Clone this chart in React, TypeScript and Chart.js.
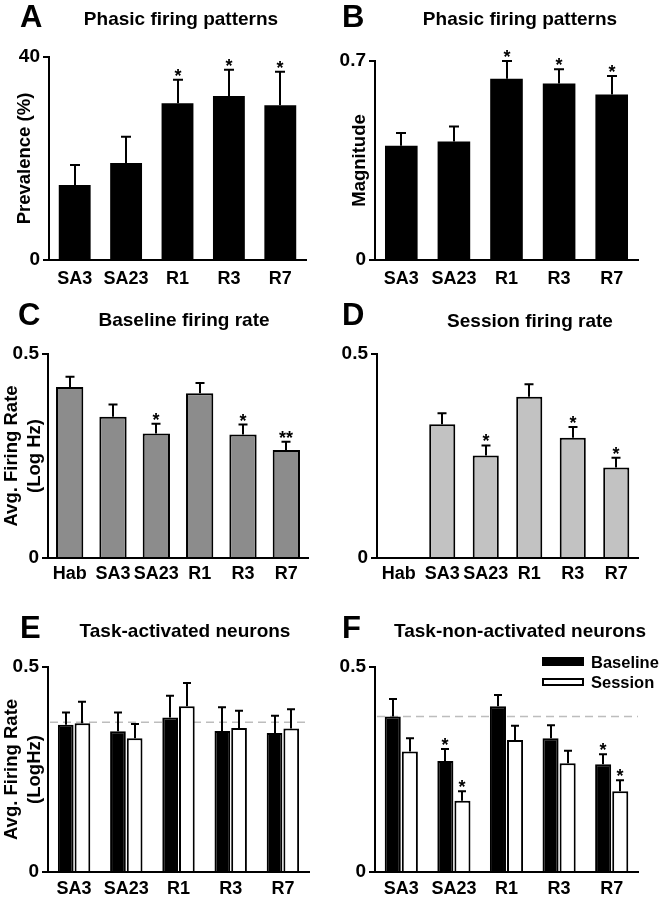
import React, { useEffect, useRef } from 'react';
import { Chart, registerables } from 'chart.js';

Chart.register(...registerables);

const FONT = '"Liberation Sans", Arial, Helvetica, sans-serif';

// ---------- data ----------
const catsFive = ['SA3', 'SA23', 'R1', 'R3', 'R7'];
const catsSix = ['Hab', 'SA3', 'SA23', 'R1', 'R3', 'R7'];

// A: prevalence (%)
const prevalence = [14.8, 19.1, 30.9, 32.3, 30.5];
const prevalenceErr = [3.9, 5.2, 4.6, 5.2, 6.6];
const prevalenceSig = ['', '', '*', '*', '*'];

// B: magnitude
const magnitude = [0.402, 0.417, 0.638, 0.621, 0.582];
const magnitudeErr = [0.045, 0.053, 0.062, 0.05, 0.065];
const magnitudeSig = ['', '', '*', '*', '*'];

// C: baseline firing rate
const baselineRate = [0.419, 0.346, 0.305, 0.404, 0.303, 0.265];
const baselineRateErr = [0.025, 0.03, 0.024, 0.025, 0.024, 0.02];
const baselineRateSig = ['', '', '*', '', '*', '**'];

// D: session firing rate
const sessionRate = [null, 0.328, 0.251, 0.395, 0.295, 0.222];
const sessionRateErr = [null, 0.027, 0.025, 0.031, 0.026, 0.024];
const sessionRateSig = ['', '', '*', '', '*', '*'];

// E: task-activated neurons
const actBaseline = [0.359, 0.343, 0.377, 0.344, 0.339];
const actBaselineErr = [0.03, 0.046, 0.053, 0.058, 0.042];
const actSession = [0.363, 0.326, 0.404, 0.351, 0.35];
const actSessionErr = [0.052, 0.035, 0.057, 0.042, 0.047];
const actRef = 0.365;

// F: task-non-activated neurons
const nonBaseline = [0.379, 0.271, 0.404, 0.326, 0.263];
const nonBaselineErr = [0.043, 0.029, 0.028, 0.032, 0.024];
const nonBaselineSig = ['', '*', '', '', '*'];
const nonSession = [0.294, 0.174, 0.322, 0.265, 0.197];
const nonSessionErr = [0.032, 0.023, 0.035, 0.031, 0.027];
const nonSessionSig = ['', '*', '', '', '*'];
const nonRef = 0.379;

const yMaxA = 40;
const yMaxB = 0.7;
const yMaxRate = 0.5;

// ---------- panel definitions ----------
type Series = {
  label: string;
  data: (number | null)[];
  err: (number | null)[];
  sig: string[];
  bg: string;
  border: string;
  borderWidth: number;
};

type Panel = {
  key: string;
  letter: string;
  title: string;
  left: number;
  top: number;
  width: number;
  height: number;
  axisX: number;
  axisTop: number;
  axisBottom: number;
  axisRight: number;
  letterX: number;
  letterY: number;
  titleX: number;
  titleY: number;
  yMax: number;
  yTitle: string | string[] | null;
  yTitlePad: number;
  xLabelPad: number;
  labels: string[];
  series: Series[];
  barPct: number;
  catPct: number;
  capW: number;
  ref?: number;
  legend?: boolean;
};

const none = (n: number) => new Array(n).fill('');

const panels: Panel[] = [
  {
    key: 'A', letter: 'A', title: 'Phasic firing patterns',
    left: 0, top: 0, width: 331, height: 290,
    axisX: 49, axisTop: 57, axisBottom: 260, axisRight: 306,
    letterX: 20, letterY: 27, titleX: 181, titleY: 25,
    yMax: yMaxA, yTitle: 'Prevalence (%)', yTitlePad: 13, xLabelPad: 2,
    labels: catsFive,
    series: [{ label: 'Prevalence', data: prevalence, err: prevalenceErr, sig: prevalenceSig, bg: '#000', border: '#000', borderWidth: 0 }],
    barPct: 0.62, catPct: 1, capW: 10,
  },
  {
    key: 'B', letter: 'B', title: 'Phasic firing patterns',
    left: 331, top: 0, width: 331, height: 290,
    axisX: 44, axisTop: 61, axisBottom: 260, axisRight: 307,
    letterX: 11, letterY: 27, titleX: 189, titleY: 25,
    yMax: yMaxB, yTitle: 'Magnitude', yTitlePad: 17, xLabelPad: 2,
    labels: catsFive,
    series: [{ label: 'Magnitude', data: magnitude, err: magnitudeErr, sig: magnitudeSig, bg: '#000', border: '#000', borderWidth: 0 }],
    barPct: 0.62, catPct: 1, capW: 10,
  },
  {
    key: 'C', letter: 'C', title: 'Baseline firing rate',
    left: 0, top: 290, width: 331, height: 300,
    axisX: 48, axisTop: 64, axisBottom: 268, axisRight: 308,
    letterX: 18, letterY: 35, titleX: 184, titleY: 36,
    yMax: yMaxRate, yTitle: ['Avg. Firing Rate', '(Log Hz)'], yTitlePad: 0, xLabelPad: -1,
    labels: catsSix,
    series: [{ label: 'Baseline', data: baselineRate, err: baselineRateErr, sig: baselineRateSig, bg: '#8c8c8c', border: '#000', borderWidth: 2 }],
    barPct: 0.63, catPct: 1, capW: 9,
  },
  {
    key: 'D', letter: 'D', title: 'Session firing rate',
    left: 331, top: 290, width: 331, height: 300,
    axisX: 46, axisTop: 64, axisBottom: 268, axisRight: 307,
    letterX: 11, letterY: 35, titleX: 199, titleY: 37,
    yMax: yMaxRate, yTitle: null, yTitlePad: 0, xLabelPad: -1,
    labels: catsSix,
    series: [{ label: 'Session', data: sessionRate, err: sessionRateErr, sig: sessionRateSig, bg: '#c2c2c2', border: '#000', borderWidth: 2 }],
    barPct: 0.6, catPct: 1, capW: 9,
  },
  {
    key: 'E', letter: 'E', title: 'Task-activated neurons',
    left: 0, top: 590, width: 331, height: 310,
    axisX: 48, axisTop: 77, axisBottom: 282, axisRight: 309,
    letterX: 20, letterY: 48, titleX: 185, titleY: 47,
    yMax: yMaxRate, yTitle: ['Avg. Firing Rate', '(LogHz)'], yTitlePad: 0, xLabelPad: 0,
    labels: catsFive,
    series: [
      { label: 'Baseline', data: actBaseline, err: actBaselineErr, sig: none(5), bg: '#000', border: '#000', borderWidth: 2 },
      { label: 'Session', data: actSession, err: actSessionErr, sig: none(5), bg: '#fff', border: '#000', borderWidth: 2 },
    ],
    barPct: 0.94, catPct: 0.64, capW: 8, ref: actRef,
  },
  {
    key: 'F', letter: 'F', title: 'Task-non-activated neurons',
    left: 331, top: 590, width: 331, height: 310,
    axisX: 44, axisTop: 77, axisBottom: 282, axisRight: 307,
    letterX: 11, letterY: 48, titleX: 189, titleY: 47,
    yMax: yMaxRate, yTitle: null, yTitlePad: 0, xLabelPad: 0,
    labels: catsFive,
    series: [
      { label: 'Baseline', data: nonBaseline, err: nonBaselineErr, sig: nonBaselineSig, bg: '#000', border: '#000', borderWidth: 2 },
      { label: 'Session', data: nonSession, err: nonSessionErr, sig: nonSessionSig, bg: '#fff', border: '#000', borderWidth: 2 },
    ],
    barPct: 0.94, catPct: 0.65, capW: 8, ref: nonRef, legend: true,
  },
];

function makeDeco(p: Panel) {
  return {
    id: 'deco' + p.key,
    beforeDatasetsDraw(chart: any) {
      if (p.ref == null) return;
      const { ctx, chartArea } = chart;
      const y = chart.scales.y.getPixelForValue(p.ref);
      ctx.save();
      ctx.strokeStyle = '#bdbdbd';
      ctx.lineWidth = 1.5;
      ctx.setLineDash([8, 5]);
      ctx.beginPath();
      ctx.moveTo(chartArea.left + 2, y);
      ctx.lineTo(chartArea.right, y);
      ctx.stroke();
      ctx.restore();
    },
    afterDatasetsDraw(chart: any) {
      const { ctx } = chart;
      const ys = chart.scales.y;
      ctx.save();
      p.series.forEach((s, di) => {
        const meta = chart.getDatasetMeta(di);
        meta.data.forEach((bar: any, i: number) => {
          const v = s.data[i];
          const e = s.err[i];
          if (v == null || e == null) return;
          const top = ys.getPixelForValue(v + e);
          const bx = Math.round(bar.x);
          ctx.strokeStyle = '#000';
          ctx.lineWidth = 2;
          ctx.beginPath();
          ctx.moveTo(bx, bar.y);
          ctx.lineTo(bx, top);
          ctx.moveTo(bx - p.capW / 2, top);
          ctx.lineTo(bx + p.capW / 2, top);
          ctx.stroke();
          const sig = s.sig[i];
          if (sig) {
            ctx.fillStyle = '#000';
            ctx.font = `bold 18px ${FONT}`;
            ctx.textAlign = 'center';
            ctx.textBaseline = 'alphabetic';
            ctx.fillText(sig, bx, top + 2);
          }
        });
      });
      ctx.restore();
    },
    afterDraw(chart: any) {
      const { ctx } = chart;
      ctx.save();
      ctx.fillStyle = '#000';
      ctx.textBaseline = 'alphabetic';
      ctx.textAlign = 'left';
      ctx.font = `bold 31px ${FONT}`;
      ctx.fillText(p.letter, p.letterX, p.letterY);
      ctx.textAlign = 'center';
      ctx.font = `bold 19px ${FONT}`;
      ctx.fillText(p.title, p.titleX, p.titleY);
      if (p.legend) {
        const lx = 212;
        const items = [
          { s: p.series[0], y: 68, h: 7 },
          { s: p.series[1], y: 89, h: 6 },
        ];
        ctx.font = `bold 16.5px ${FONT}`;
        ctx.textAlign = 'left';
        items.forEach((it) => {
          ctx.fillStyle = it.s.bg;
          ctx.fillRect(lx, it.y, 40, it.h);
          ctx.strokeStyle = '#000';
          ctx.lineWidth = 2;
          ctx.strokeRect(lx, it.y, 40, it.h);
          ctx.fillStyle = '#000';
          ctx.fillText(it.s.label, lx + 48, it.y + it.h + 3);
        });
      }
      ctx.restore();
    },
  };
}

function PanelChart({ p }: { p: Panel }) {
  const ref = useRef<HTMLCanvasElement | null>(null);
  useEffect(() => {
    if (!ref.current) return;
    const xFont = { family: FONT, size: 18, weight: 'bold' as const, lineHeight: 1.0 };
    const yFont = { family: FONT, size: 19, weight: 'bold' as const };
    const chart = new Chart(ref.current, {
      type: 'bar',
      data: {
        labels: p.labels,
        datasets: p.series.map((s) => ({
          label: s.label,
          data: s.data as any,
          backgroundColor: s.bg,
          borderColor: s.border,
          borderWidth: s.borderWidth,
          barPercentage: p.barPct,
          categoryPercentage: p.catPct,
        })),
      },
      options: {
        responsive: false,
        animation: false,
        events: [],
        layout: {
          padding: { left: 0, top: p.axisTop, right: p.width - p.axisRight, bottom: 0 },
        },
        plugins: {
          legend: { display: false },
          tooltip: { enabled: false },
          title: { display: false },
        },
        scales: {
          x: {
            type: 'category',
            offset: true,
            grid: { display: false },
            border: { display: true, color: '#000', width: 2 },
            ticks: { color: '#000', font: xFont, padding: p.xLabelPad, maxRotation: 0, autoSkip: false },
            afterFit: (s: any) => {
              s.height = p.height - p.axisBottom;
            },
          },
          y: {
            type: 'linear',
            min: 0,
            max: p.yMax,
            afterBuildTicks: (s: any) => {
              s.ticks = [{ value: 0 }, { value: p.yMax }];
            },
            grid: { drawOnChartArea: false, drawTicks: true, tickLength: 6, color: '#000', lineWidth: 2 },
            border: { display: true, color: '#000', width: 2 },
            ticks: {
              color: '#000',
              font: yFont,
              padding: 3,
              callback: (v: any) => String(Number(v)),
            },
            title: {
              display: !!p.yTitle,
              text: p.yTitle || '',
              color: '#000',
              font: { family: FONT, size: 18.5, weight: 'bold', lineHeight: 1.25 },
              padding: { top: p.yTitlePad, bottom: 0 },
            },
            afterFit: (s: any) => {
              s.width = p.axisX;
            },
          },
        },
      } as any,
      plugins: [makeDeco(p)],
    });
    return () => chart.destroy();
  }, [p]);
  return (
    <canvas
      ref={ref}
      width={p.width}
      height={p.height}
      style={{ position: 'absolute', left: p.left, top: p.top, width: p.width, height: p.height }}
    />
  );
}

export default function App() {
  return (
    <div style={{ position: 'absolute', left: 0, top: 0, width: 662, height: 900, background: '#fff', overflow: 'hidden' }}>
      {panels.map((p) => (
        <PanelChart key={p.key} p={p} />
      ))}
    </div>
  );
}
